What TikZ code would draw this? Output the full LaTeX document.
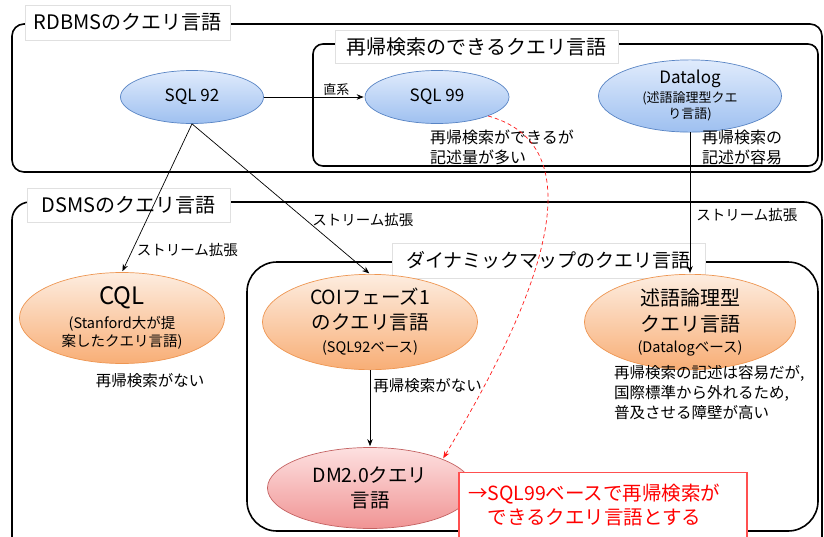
\documentclass[tikz,border=0pt]{standalone}
\usepackage{fontspec}
\setmainfont{Noto Sans CJK JP}
\usepackage{xcolor}
\usetikzlibrary{positioning,shapes.geometric,arrows.meta}

\definecolor{qbluetop}{RGB}{224,235,252}
\definecolor{qbluebot}{RGB}{158,192,240}
\definecolor{qblueline}{RGB}{88,132,196}
\definecolor{qorangetop}{RGB}{253,237,224}
\definecolor{qorangebot}{RGB}{248,174,118}
\definecolor{qorangeline}{RGB}{238,150,82}
\definecolor{qredtop}{RGB}{253,224,224}
\definecolor{qredbot}{RGB}{240,148,148}
\definecolor{qredline}{RGB}{196,98,98}
\definecolor{qredbox}{RGB}{255,80,80}

\newcommand{\fsz}[2]{\fontsize{#1}{#2}\selectfont}

\begin{document}
\begin{tikzpicture}[%
    x=1pt, y=-1pt,
    ->,
    shorten >=1pt,
    >={Stealth[length=7pt, width=5.5pt]},
    frame/.style={-, line width=1.6pt, rounded corners=#1},
    caption/.style={%
      fill=white,
      draw=black!12,
      inner sep=0pt,
      font=\fsz{20}{24}
    },
    query/.style={ellipse, line width=0.7pt, inner sep=0pt, align=center},
    blueq/.style={query, draw=qblueline, top color=qbluetop, bottom color=qbluebot},
    orangeq/.style={query, draw=qorangeline, top color=qorangetop, bottom color=qorangebot},
    redq/.style={query, draw=qredline, top color=qredtop, bottom color=qredbot},
    goal/.style={%
      draw=qredbox,
      fill=white,
      line width=1.2pt,
      text=red,
      align=left,
      inner xsep=9pt,
      font=\fsz{19.5}{24}
    },
    note/.style={inner sep=0pt, align=left, font=\fsz{16}{20}},
    lbl/.style={inner sep=0pt, font=\fsz{14.5}{17}},
    link/.style={line width=0.7pt}
  ]
    \clip (0,0) rectangle (824,536);
    \fill[white] (0,0) rectangle (824,536);

    % frames
    \draw[frame=12pt] (12,24)  rectangle (822,172);
    \draw[frame=10pt] (313,44) rectangle (818,166);
    \draw[frame=18pt] (12,202) rectangle (822,560);
    \draw[frame=30pt] (247,262) rectangle (818,531);

    \node[caption, minimum width=205pt, minimum height=35pt] (rdbms) at (127.5,22.5) {RDBMSのクエリ言語};
    \node[caption, minimum width=283pt, minimum height=33pt] (recur) at (476.5,46.5) {再帰検索のできるクエリ言語};
    \node[caption, minimum width=203pt, minimum height=34pt] (dsms)  at (128.5,205)  {DSMSのクエリ言語};
    \node[caption, minimum width=313pt, minimum height=35pt, font=\fsz{19}{24}] (dmap) at (548.5,260.5) {ダイナミックマップのクエリ言語};

    % query languages
    \node[blueq, minimum width=143pt, minimum height=53pt, font=\fsz{17}{20}] (sql92) at (192,97) {SQL 92};
    \node[blueq, minimum width=144pt, minimum height=53pt, font=\fsz{17}{20}] (sql99) at (437,97) {SQL 99};
    \node[blueq, minimum width=183pt, minimum height=62pt, font=\fsz{13}{16}] (datalog) at (690,96)
      {{\fsz{17}{19}Datalog}\\[3pt](述語論理型クエ\\り言語)};

    \node[orangeq, minimum width=205pt, minimum height=91pt, font=\fsz{14.5}{18}] (cql) at (122,318)
      {{\fsz{24}{26}CQL}\\[6pt](Stanford大が提\\案したクエリ言語)};
    \node[orangeq, minimum width=215pt, minimum height=87pt, font=\fsz{19.5}{25}] (coi) at (370,322)
      {COIフェーズ1\\のクエリ言語\\[-2pt]{\fsz{14.5}{18}(SQL92ベース)}};
    \node[orangeq, minimum width=211pt, minimum height=76pt, font=\fsz{20}{26}] (pred) at (690,322)
      {述語論理型\\クエリ言語\\[-5pt]{\fsz{14.5}{18}(Datalogベース)}};

    \node[redq, minimum width=205pt, minimum height=81pt, font=\fsz{19.5}{25}] (dm2) at (370,488)
      {DM2.0クエリ\\言語};

    % notes
    \node[note, anchor=west] (sql99note)   at (430,147) {再帰検索ができるが\\記述量が多い};
    \node[note, anchor=west] (datalognote) at (702,147) {再帰検索の\\記述が容易};
    \node[note, below=9pt of cql, xshift=28pt, font=\fsz{15.5}{20}] (cqlnote) {再帰検索がない};
    \node[note, anchor=west, font=\fsz{15.5}{20}] (prednote) at (614,393)
      {再帰検索の記述は容易だが,\\国際標準から外れるため,\\普及させる障壁が高い};

    \path (sql92)       edge [link] node[lbl, above=1pt, pos=0.72, font=\fsz{13}{15}] {直系} (sql99)
          (sql92.south) edge [link] node[lbl, right, pos=0.85, xshift=4pt] {ストリーム拡張} (cql.north)
          (sql92.south) edge [link] node[lbl, right, pos=0.64, xshift=6pt] {ストリーム拡張} (coi.north)
          (datalog)     edge [link] node[lbl, right, pos=0.58, xshift=6pt] {ストリーム拡張} (pred)
          (coi)         edge [link] node[lbl, right, pos=0.2, xshift=3pt, font=\fsz{15.5}{18}] {再帰検索がない} (dm2)
          ;

    \draw[link, red!90, dash pattern=on 4pt off 3pt] (sql99.south east) .. controls (610,150) and (520,330) .. (dm2.north east);

    \node[goal, minimum width=288pt, minimum height=66pt, text width=270pt] (goal) at (603,505.5)
      {→SQL99ベースで再帰検索が\\\hspace*{1em}できるクエリ言語とする};
  \end{tikzpicture}
\end{document}
